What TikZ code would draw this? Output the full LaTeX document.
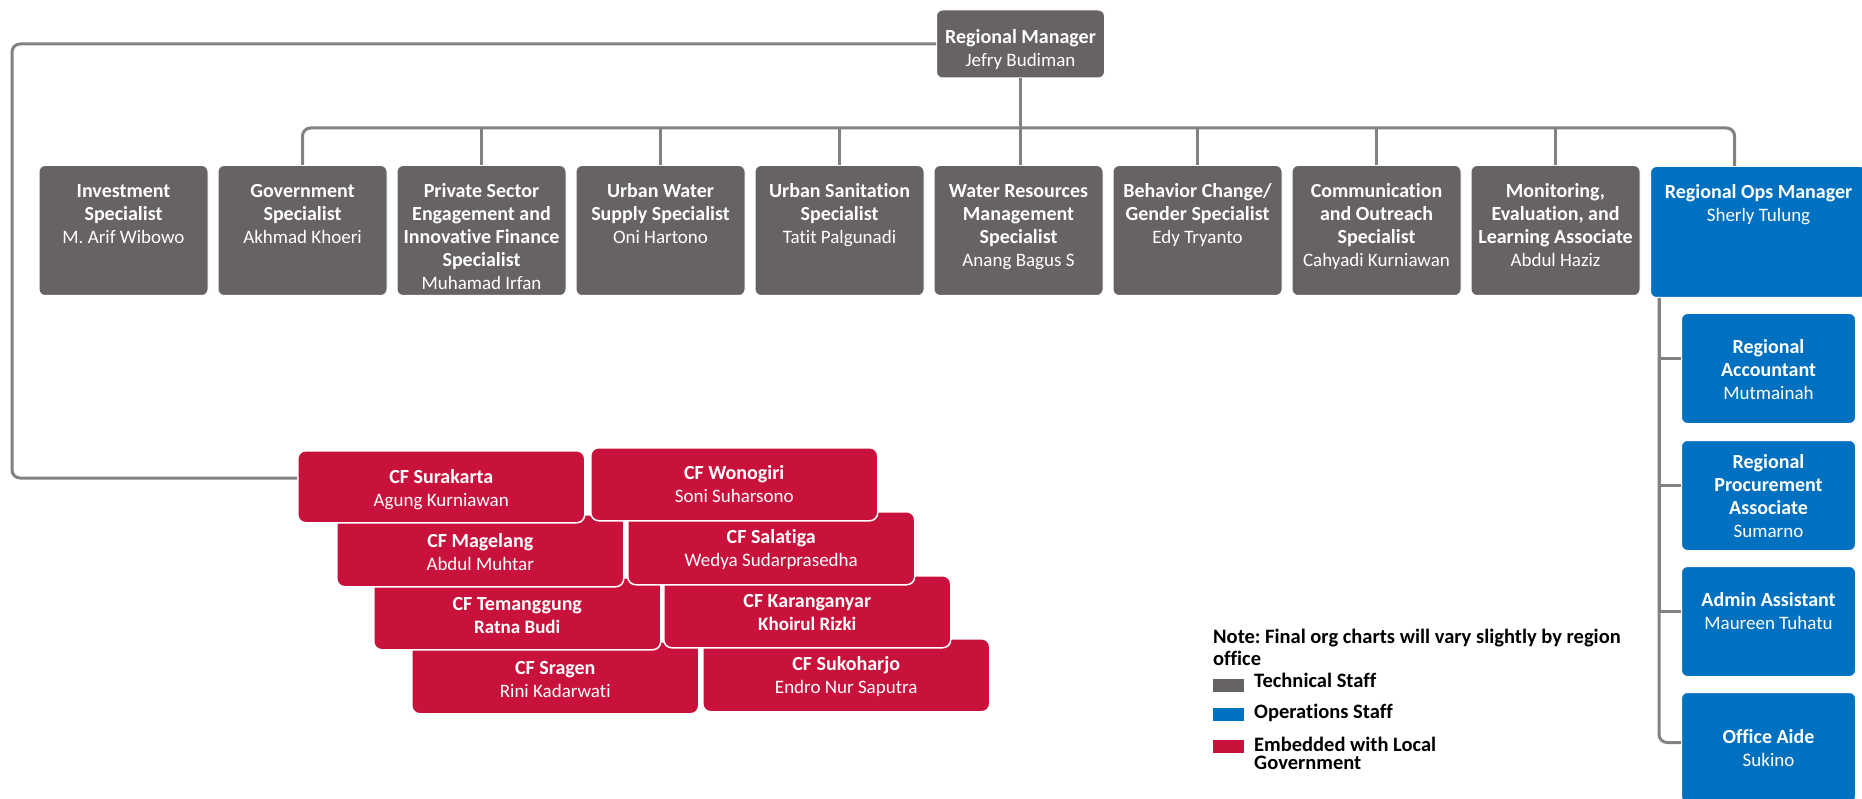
\documentclass[tikz,border=0pt]{standalone}
\usepackage{fontspec}
\setmainfont{Carlito}[Ligatures={NoCommon}]
\usetikzlibrary{calc}

\definecolor{techgray}{RGB}{103,99,98}
\definecolor{opsblue}{RGB}{0,112,192}
\definecolor{lgred}{RGB}{200,18,60}
\definecolor{linegray}{RGB}{130,130,130}

% card body: width, height, inner position (t/c), top gap, title, name
\newcommand\cardbody[6]{\parbox[t][#2][#3]{#1}{\centering\vspace*{#4}%
{\fontsize{20}{23}\selectfont\bfseries\strut #5\\}%
{\fontsize{19}{23}\selectfont #6\par}}}

\tikzset{
  card/.style={inner sep=0pt, rounded corners=6pt, text=white, draw=white, line width=1pt, anchor=north west},
  gcard/.style={card, fill=techgray},
  bcard/.style={card, fill=opsblue},
  rcard/.style={card, fill=lgred, rounded corners=8pt, line width=1.5pt},
  conn/.style={draw=linegray, line width=3pt, rounded corners=8pt},
  legsq/.style={inner sep=0pt, minimum width=31pt, minimum height=13pt, anchor=north west},
  legtext/.style={inner sep=0pt, anchor=base west, font=\fontsize{20.5}{22}\selectfont\bfseries\frenchspacing, text=black}
}

\begin{document}
\begin{tikzpicture}[x=1pt, y=-1pt]
\useasboundingbox[fill=white] (0,0) rectangle (1862,799);

% top manager
\node[gcard] (rm) at (936,9.5) {\cardbody{168pt}{68pt}{t}{17pt}{Regional Manager}{Jefry Budiman}};

% technical staff row
\node[gcard] (inv) at (38.5,165) {\cardbody{169pt}{130pt}{t}{16pt}{Investment\\Specialist}{M. Arif Wibowo}};
\node[gcard] (gov) at (217.5,165) {\cardbody{169pt}{130pt}{t}{16pt}{Government\\Specialist}{Akhmad Khoeri}};
\node[gcard] (prv) at (396.5,165) {\cardbody{169pt}{130pt}{t}{16pt}{Private Sector\\Engagement and\\Innovative Finance\\Specialist}{Muhamad Irfan}};
\node[gcard] (uws) at (575.5,165) {\cardbody{169pt}{130pt}{t}{16pt}{Urban Water\\Supply Specialist}{Oni Hartono}};
\node[gcard] (usn) at (754.5,165) {\cardbody{169pt}{130pt}{t}{16pt}{Urban Sanitation\\Specialist}{Tatit Palgunadi}};
\node[gcard] (wrm) at (933.5,165) {\cardbody{169pt}{130pt}{t}{16pt}{Water Resources\\Management\\Specialist}{Anang Bagus S}};
\node[gcard] (bcg) at (1112.5,165) {\cardbody{169pt}{130pt}{t}{16pt}{Behavior Change/\\Gender Specialist}{Edy Tryanto}};
\node[gcard] (com) at (1291.5,165) {\cardbody{169pt}{130pt}{t}{16pt}{Communication\\and Outreach\\Specialist}{Cahyadi Kurniawan}};
\node[gcard] (mel) at (1470.5,165) {\cardbody{169pt}{130pt}{t}{16pt}{Monitoring,\\Evaluation, and\\Learning Associate}{Abdul Haziz}};

% operations
\node[bcard] (ops) at (1650,166) {\cardbody{216pt}{131pt}{t}{16pt}{Regional Ops Manager}{Sherly Tulung}};
\node[bcard] (acc) at (1681,313) {\cardbody{174pt}{110pt}{c}{0pt}{Regional\\Accountant}{Mutmainah}};
\node[bcard] (prc) at (1681,440) {\cardbody{174pt}{110pt}{c}{0pt}{Regional\\Procurement\\Associate}{Sumarno}};
\node[bcard] (adm) at (1681,566) {\cardbody{174pt}{110pt}{c}{0pt}{Admin Assistant}{Maureen Tuhatu\\\mbox{}}};
\node[bcard] (oa) at (1681,692) {\cardbody{174pt}{110pt}{c}{0pt}{Office Aide}{Sukino}};

% connectors
\coordinate (bus) at (0,128);
\coordinate (lb) at (12,478);
\coordinate (opsdrop) at ([xshift=-24pt]ops.north);
\coordinate (vtop) at ([xshift=9pt]ops.south west);

\draw[conn] (rm.south) -- (rm.south |- wrm.north);
\draw[conn] (gov.north) -- (gov.north |- bus) -- (bus -| opsdrop) -- (opsdrop);
\foreach \n in {prv,uws,usn,bcg,com,mel} {
  \draw[conn] (\n.north) -- (\n.north |- bus);
}
\draw[conn] (vtop) |- ([yshift=5pt]oa.west);
\foreach \n in {acc,prc,adm} {
  \draw[conn, sharp corners] (vtop) |- ([yshift=10pt]\n.west);
}

% embedded with local government (lower rows first)
\node[rcard] (srg) at (411,641) {\cardbody{287pt}{72pt}{t}{17pt}{CF Sragen}{Rini Kadarwati}};
\node[rcard] (skh) at (702,638) {\cardbody{287pt}{73pt}{t}{16pt}{CF Sukoharjo}{Endro Nur Saputra}};
\node[rcard] (tmg) at (373,577) {\cardbody{287pt}{72pt}{t}{17pt}{CF Temanggung}{\textbf{Ratna Budi}}};
\node[rcard] (kra) at (663,575) {\cardbody{287pt}{72pt}{t}{16pt}{CF Karanganyar}{\textbf{Khoirul Rizki}}};
\node[rcard] (mgl) at (336,514) {\cardbody{287pt}{72pt}{t}{17pt}{CF Magelang}{Abdul Muhtar}};
\node[rcard] (slt) at (627,511) {\cardbody{287pt}{73pt}{t}{16pt}{CF Salatiga}{Wedya Sudarprasedha}};
\node[rcard] (sur) at (297,450) {\cardbody{287pt}{72pt}{t}{17pt}{CF Surakarta}{Agung Kurniawan}};
\node[rcard] (wng) at (590,447) {\cardbody{287pt}{73pt}{t}{16pt}{CF Wonogiri}{Soni Suharsono}};

\draw[conn] (rm.west) -| (lb) -- (lb -| sur.west);

% legend
\node[legtext] (note) at (1213,643) {\parbox[t]{460pt}{\raggedright Note: Final org charts will vary slightly by region\\office}};
\node[legsq, fill=techgray] (legT) at (1213,679) {};
\node[legsq, fill=opsblue] (legO) at (1213,708) {};
\node[legsq, fill=lgred] (legE) at (1213,740) {};
\node[legtext] (legTt) at (1254,687) {Technical Staff};
\node[legtext] (legOt) at (1254,718) {Operations Staff};
\node[legtext] (legEt) at (1254,751) {\parbox[t]{240pt}{\raggedright\baselineskip=18.5pt Embedded with Local\\Government}};
\end{tikzpicture}
\end{document}
